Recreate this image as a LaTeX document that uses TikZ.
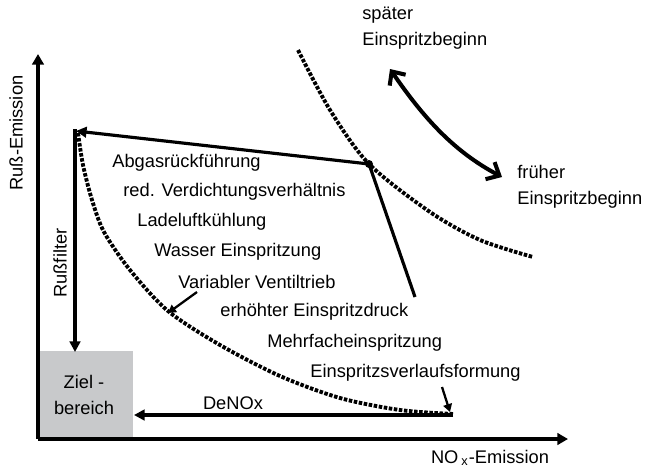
\documentclass[tikz,border=0pt]{standalone}
\usepackage{fontspec}
\setmainfont{Liberation Sans}
\usetikzlibrary{arrows.meta}
\usetikzlibrary{calc}
\definecolor{zielgrau}{RGB}{200,201,203}

\begin{document}
\begin{tikzpicture}[x=0.02cm, y=-0.02cm, font=\fontsize{10.4}{12}\selectfont,
        lbl/.style={anchor=west, inner sep=0pt},
        achse/.style={line width=1.8pt, -{Triangle[length=6pt,width=6.5pt]}},
        pfeil/.style={line width=1.8pt, -{Triangle[length=6pt,width=6pt]}},
        zeiger/.style={line width=1.3pt, -{Triangle[length=4.5pt,width=5pt]}},
        grenze/.style={line width=2.2pt, dash pattern=on 2pt off 0.9pt}]
        \useasboundingbox (0,0) rectangle (645,470);

        % Zielbereich
        \fill[zielgrau] (39,351) rectangle (133,439);
        \node[align=center, inner sep=0pt] (ziel) at (84,395) {Ziel -\\[3pt]bereich};

        % Achsen
        \coordinate (ursprung) at (38,439);
        \coordinate (yende) at (38,54);
        \coordinate (xende) at (568,439);
        \draw[achse] (ursprung) -- (yende);
        \draw[achse] (ursprung) -- (xende);
        \node[rotate=90] (russ) at (16,133) {Ruß-Emission};
        \node (nox) at (490,458) {NO\,\textsubscript{x}-Emission};

        % Grenzkurven
        \draw[grenze] plot[smooth] coordinates {(78,133) (83,165) (92,200) (104,232)
                (130,270) (168,311) (220,345) (280,376) (340,398) (400,410) (453,414)};
        \draw[grenze] plot[smooth] coordinates {(298,50) (330,110) (369,164)
                (430,212) (480,240) (533,257)};

        % Punkte
        \coordinate (ecke) at (76,131);
        \coordinate (punkt) at (369,164);
        \coordinate (druck) at (415,297);
        \coordinate (denoxstart) at (453,415);
        \fill (punkt) circle (4);

        \draw[pfeil] (punkt) -- (ecke);
        \draw[line width=1.8pt] (punkt) -- (druck);
        \draw[pfeil] (75,129) -- (75,352);
        \draw[pfeil] (denoxstart) -- (134,415);
        \node[rotate=90] (filter) at (60,263) {Rußfilter};
        \node (denox) at (233,403) {DeNOx};

        % Massnahmen
        \foreach \px/\py/\txt [count=\i] in {112/163/Abgasrückführung,
                123/192/red. Verdichtungsverhältnis, 137/222/Ladeluftkühlung,
                154/252/Wasser Einspritzung, 178/282/Variabler Ventiltrieb,
                220/312/erhöhter Einspritzdruck, 267/343/Mehrfacheinspritzung,
                310/373/Einspritzsverlaufsformung}
        \node[lbl] (m\i) at (\px,\py) {\txt};

        \draw[zeiger] (197,292) -- (168,313);
        \draw[zeiger] (442,387) -- (450,412);

        % Einspritzbeginn
        \node[lbl, align=left] (spaet) at (362,28) {später\\[3pt]Einspritzbeginn};
        \node[lbl, align=left] (frueh) at (517,187) {früher\\[3pt]Einspritzbeginn};
        \draw[line width=2.3pt, {Straight Barb[length=6pt,width=11pt]}-{Straight Barb[length=6pt,width=11pt]}]
                (390,69) .. controls (425,120) and (455,152) .. (502,177);
\end{tikzpicture}
\end{document}
